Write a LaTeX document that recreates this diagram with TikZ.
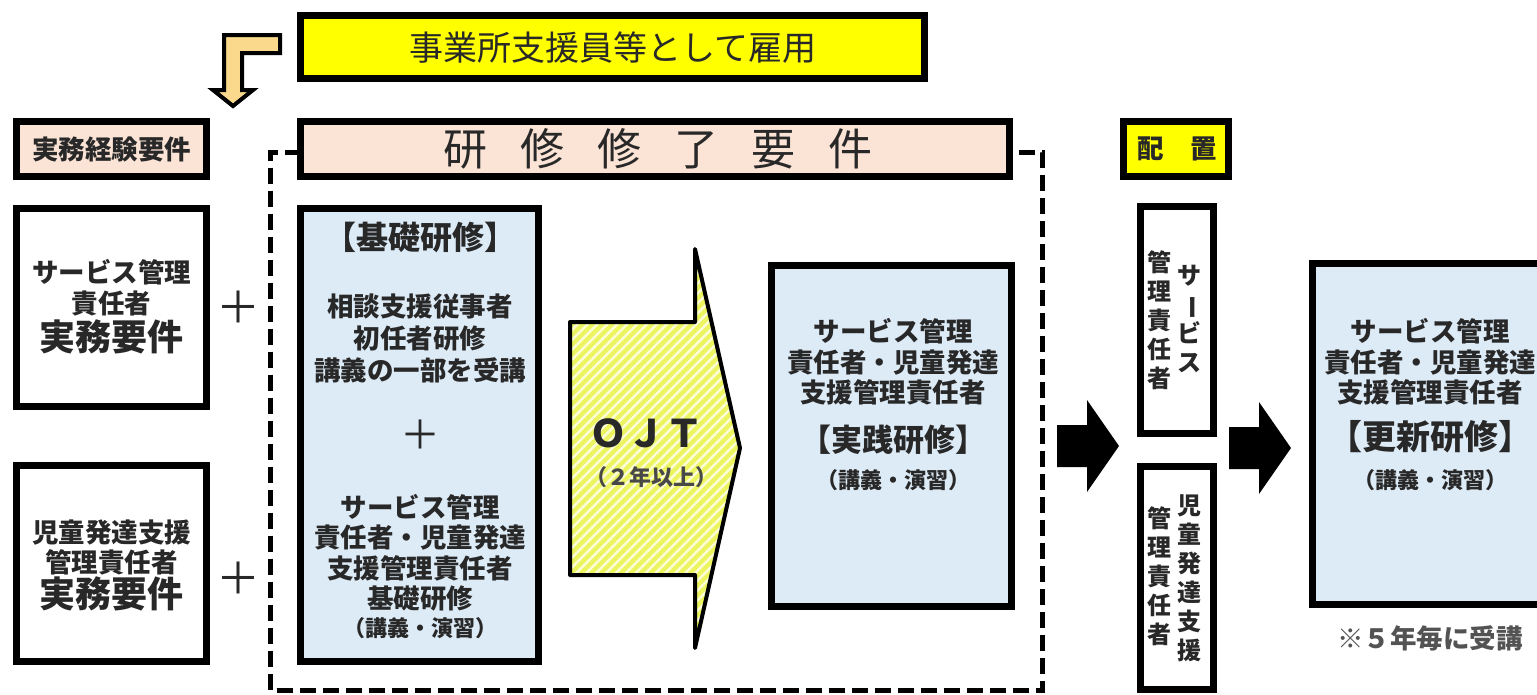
\documentclass[tikz,border=0pt]{standalone}
\usepackage{fontspec}
\usepackage{graphicx}
\newfontfamily\jp{Noto Sans CJK JP}
\usetikzlibrary{patterns.meta}
\begin{document}
\begin{tikzpicture}[x = 1pt, y = -1pt,
  boxframe/.style = {draw = black, line width = 7},
  txt/.style = {inner sep = 0, align = center, text = ink},
  smalltxt/.style = {txt, font = \jp\bfseries\fontsize{26.5}{30.5}\selectfont},
  bigtxt/.style = {txt, font = \jp\bfseries\fontsize{36}{40}\selectfont},
  headtxt/.style = {txt, font = \jp\bfseries\fontsize{32}{36}\selectfont},
  lecttxt/.style = {txt, font = \jp\bfseries\fontsize{22}{26}\selectfont},
  coltxt/.style = {txt, font = \jp\bfseries\fontsize{24}{29}\selectfont},
  plustxt/.style = {txt, font = \jp\fontsize{44}{44}\selectfont}]
\useasboundingbox (0,0) rectangle (1537,694);
\definecolor{ink}{RGB}{40,40,40}
\definecolor{peach}{RGB}{251,228,214}
\definecolor{skyblue}{RGB}{221,235,247}
\definecolor{lemon}{RGB}{255,255,0}
\definecolor{wheat}{RGB}{250,216,140}
\definecolor{ojtyellow}{RGB}{236,244,96}
\definecolor{ojtstripe}{RGB}{252,253,214}
\draw [line width = 5, dash pattern = on 16pt off 7pt] (300.5,152) -| (270,690) -| (1042,152) -- (1009.5,152);
\draw [boxframe, fill = lemon] (300.5,15.5) rectangle (924.5,78.5);
\node [txt, font = \jp\fontsize{34}{34}\selectfont] (koyou) at (613,48) {事業所支援員等として雇用};
\draw [line width = 4, fill = wheat] (280,35) -- (224,35) -- (224,90) -- (213,90) -- (233,106) -- (253,90) -- (242,90) -- (242,53) -- (280,53) -- cycle;
\draw [boxframe, fill = peach] (16.5,121.5) rectangle (206.5,176.5);
\node [smalltxt] (keiken) at (111.5,149) {実務経験要件};
\draw [boxframe, fill = peach] (300.5,121.5) rectangle (1009.5,176.5);
\node [txt, font = {\jp\fontsize{44}{44}\selectfont\spaceskip=33pt}] (shuryo) at (658,149) {研 修 修 了 要 件};
\draw [boxframe, fill = lemon] (1123.5,121.5) rectangle (1228.5,176.5);
\node [smalltxt, font = {\jp\bfseries\fontsize{26.5}{30.5}\selectfont\spaceskip=26pt}] (haichi) at (1177,149) {配 置};
\foreach \top/\bot in {208.5/406.5, 465.5/661.5}
  \draw [boxframe, fill = white] (16.5,\top) rectangle (206.5,\bot);
\node [smalltxt] (svcA) at (111.5,287.5) {サービス管理\\責任者};
\node [bigtxt] (yokenA) at (111.5,337) {実務要件};
\node [smalltxt] (jidoB) at (111.5,547.5) {児童発達支援\\管理責任者};
\node [bigtxt] (yokenB) at (111.5,594) {実務要件};
\foreach \y/\name in {307/plusA, 578/plusB}
  \node [plustxt] (\name) at (238,\y) {＋};
\draw [boxframe, fill = skyblue] (300.5,208.5) rectangle (538.5,661.5);
\node [headtxt] (kiso) at (420,237) {【基礎研修】};
\node [smalltxt, font = \jp\bfseries\fontsize{26.5}{32}\selectfont] (sodan) at (420,338) {相談支援従事者\\初任者研修\\講義の一部を受講};
\node [plustxt, font = \jp\fontsize{40}{40}\selectfont] (plusC) at (420,435) {＋};
\node [smalltxt] (kisoB) at (420,553) {サービス管理\\責任者・児童発達\\支援管理責任者\\基礎研修};
\node [lecttxt] (kisoEnsyu) at (420,628) {（講義・演習）};
\fill [ojtyellow] (570,322) -- (695,322) -- (695,249) -- (740,448) -- (695,648) -- (695,575) -- (570,575) -- cycle;
\fill [pattern = {Lines[angle = 45, distance = 7pt, line width = 2.5pt]}, pattern color = ojtstripe] (570,322) -- (695,322) -- (695,249) -- (740,448) -- (695,648) -- (695,575) -- (570,575) -- cycle;
\draw [line width = 4, line join = round] (570,322) -- (695,322) -- (695,249) -- (740,448) -- (695,648) -- (695,575) -- (570,575) -- cycle;
\node [txt, font = \jp\bfseries\fontsize{38}{38}\selectfont] (ojt) at (646,433) {ＯＪＴ};
\node [lecttxt, text = ink!85] (nen) at (651,477) {（２年以上）};
\draw [boxframe, fill = skyblue] (771.5,265.5) rectangle (1011.5,606.5);
\node [smalltxt] (jissenA) at (893,362) {サービス管理\\責任者・児童発達\\支援管理責任者};
\node [headtxt, font = \jp\bfseries\fontsize{31}{35}\selectfont] (jissen) at (893,440) {【実践研修】};
\node [lecttxt] (jissenEnsyu) at (893,480) {（講義・演習）};
\foreach \x/\y in {1057/446, 1229/448}
  \fill [black] (\x,\y-21) -- ++(30,0) -- ++(0,-25) -- ++(32,46) -- ++(-32,46) -- ++(0,-25) -- ++(-30,0) -- cycle;
\foreach \top/\bot in {206.5/433.5, 466.5/689.5}
  \draw [boxframe, fill = white] (1140.5,\top) rectangle (1213.5,\bot);
\node [coltxt] (haichiSvc) at (1189,319) {サ\\\rotatebox[origin=c]{-90}{ー}\\ビ\\ス};
\node [coltxt] (haichiSvcB) at (1159,320) {管\\理\\責\\任\\者};
\node [coltxt] (haichiJido) at (1189,578) {児\\童\\発\\達\\支\\援};
\node [coltxt] (haichiJidoB) at (1159,576) {管\\理\\責\\任\\者};
\draw [boxframe, fill = skyblue] (1312.5,263.5) rectangle (1560,604.5);
\node [smalltxt] (koshinA) at (1430,362) {サービス管理\\責任者・児童発達\\支援管理責任者};
\node [headtxt, font = \jp\bfseries\fontsize{34}{38}\selectfont] (koshin) at (1430,437) {【更新研修】};
\node [lecttxt] (koshinEnsyu) at (1430,480) {（講義・演習）};
\node [smalltxt, text = ink!80] (goNen) at (1430,638) {※５年毎に受講};
\end{tikzpicture}
\end{document}
